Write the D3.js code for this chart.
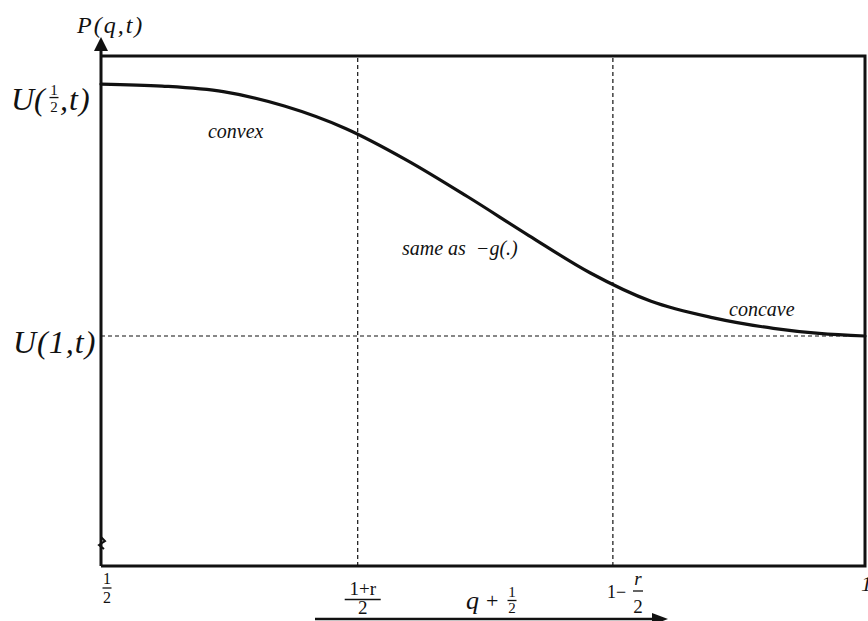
<!DOCTYPE html>
<html>
<head>
<meta charset="utf-8">
<script src="https://cdn.jsdelivr.net/npm/d3@7/dist/d3.min.js"></script>
<style>
  html, body { margin: 0; padding: 0; background: #fff; }
  svg { display: block; }
</style>
</head>
<body>
<svg id="chart" width="868" height="621"></svg>
<script>
// Price path P(q,t) against q + 1/2
const qValues = [0.5, 0.54, 0.58, 0.62, 0.66, 0.70, 0.74, 0.78, 0.82, 0.86, 0.90, 0.94, 0.97, 1.0];
const pValues = [0.945, 0.941, 0.930, 0.902, 0.858, 0.796, 0.724, 0.648, 0.575, 0.519, 0.487, 0.466, 0.456, 0.451];

// Breakpoints on the horizontal axis: 1/2, (1+r)/2, 1 - r/2, 1
const xTickValues = [0.5, 0.668, 0.835, 1.0];
// Reference levels on the vertical axis: U(1/2,t) and U(1,t)
const yRefValues = [0.945, 0.451];

// Region notes along the curve
const noteTexts = ["convex", "same as  \u2212g(.)", "concave"];
const noteQ = [0.570, 0.697, 0.911];
const noteP = [0.840, 0.610, 0.490];

const serif = "'Liberation Serif', 'Times New Roman', Times, 'DejaVu Serif', serif";
const svg = d3.select("#chart");
const x = d3.scaleLinear().domain([0.5, 1]).range([101, 865]);
const y = d3.scaleLinear().domain([0, 1]).range([566, 56]);

const ink = "#111";

function txt(xp, yp, s, size, italic) {
  return svg.append("text")
    .attr("x", xp).attr("y", yp)
    .attr("font-family", serif)
    .attr("font-size", size)
    .attr("font-style", italic ? "italic" : "normal")
    .attr("fill", ink)
    .text(s);
}

// dashed guides at the breakpoints
svg.selectAll("line.vguide")
  .data(xTickValues.slice(1, 3))
  .enter().append("line")
  .attr("x1", d => x(d)).attr("x2", d => x(d))
  .attr("y1", y(0)).attr("y2", y(1))
  .attr("stroke", ink).attr("stroke-width", 1.2)
  .attr("stroke-dasharray", "4,3");

svg.append("line")
  .attr("x1", x(0.5)).attr("x2", x(1))
  .attr("y1", y(yRefValues[1])).attr("y2", y(yRefValues[1]))
  .attr("stroke", ink).attr("stroke-width", 1.2)
  .attr("stroke-dasharray", "4,3");

// frame: top, right and bottom edges
svg.append("path")
  .attr("d", `M${x(0.5)},${y(1)} H${x(1)} V${y(0)} H${x(0.5)}`)
  .attr("fill", "none").attr("stroke", ink).attr("stroke-width", 3);

// vertical axis with arrowhead
svg.append("line")
  .attr("x1", x(0.5)).attr("x2", x(0.5))
  .attr("y1", y(0)).attr("y2", 50)
  .attr("stroke", ink).attr("stroke-width", 3);
svg.append("path")
  .attr("d", `M${x(0.5)},37 L${x(0.5) + 7},51 L${x(0.5) - 7},51 Z`)
  .attr("fill", ink);

// axis break mark near the origin
svg.append("path")
  .attr("d", `M${x(0.5)},537 l4,4 l-6,4 l5,4`)
  .attr("fill", "none").attr("stroke", ink).attr("stroke-width", 2);

// the price curve
const line = d3.line()
  .x((d, i) => x(qValues[i]))
  .y(d => y(d))
  .curve(d3.curveMonotoneX);
svg.append("path")
  .datum(pValues)
  .attr("d", line)
  .attr("fill", "none").attr("stroke", ink).attr("stroke-width", 3.2)
  .attr("stroke-linecap", "round");

// region notes
noteTexts.forEach((s, i) => {
  txt(x(noteQ[i]), y(noteP[i]), s, 20, true).style("white-space", "pre");
});

// stacked fraction helper
function frac(cx, numY, num, den, size, barY, denY, barW, italicNum) {
  txt(cx, numY, num, size, italicNum).attr("text-anchor", "middle");
  svg.append("line").attr("x1", cx - barW / 2).attr("x2", cx + barW / 2)
    .attr("y1", barY).attr("y2", barY).attr("stroke", ink).attr("stroke-width", 1.3);
  txt(cx, denY, den, size, false).attr("text-anchor", "middle");
}

// vertical axis title
txt(77, 33, "P(q,t)", 24, true).attr("letter-spacing", 2);

// U(1/2,t)
const yTop = y(yRefValues[0]);
txt(11, yTop + 26, "U(", 32, true);
frac(54, yTop + 11, "1", "2", 15, yTop + 13.5, yTop + 28, 9, false);
txt(60, yTop + 26, ",t)", 32, true).attr("letter-spacing", 1);

// U(1,t)
txt(13, y(yRefValues[1]) + 17, "U(1,t)", 32, true).attr("letter-spacing", 1);

// horizontal tick labels
frac(x(xTickValues[0]) + 6, 584, "1", "2", 16, 588, 603, 9, false);
frac(x(xTickValues[1]) + 5, 595, "1+r", "2", 19, 599.5, 614, 36, false);
txt(607, 598, "1\u2212", 18, false);
frac(638, 585, "r", "2", 19, 591, 613, 10, true);
txt(861, 591, "1", 22, true);

// horizontal axis title with arrow
txt(466, 609, "q", 26, true);
txt(486, 608, "+", 22, false);
frac(512, 597, "1", "2", 15, 600.5, 613, 9, false);
svg.append("line").attr("x1", 315).attr("x2", 655).attr("y1", 619).attr("y2", 619)
  .attr("stroke", ink).attr("stroke-width", 2.5);
svg.append("path").attr("d", "M668,619 L652,613 L652,625 Z").attr("fill", ink);
</script>
</body>
</html>
